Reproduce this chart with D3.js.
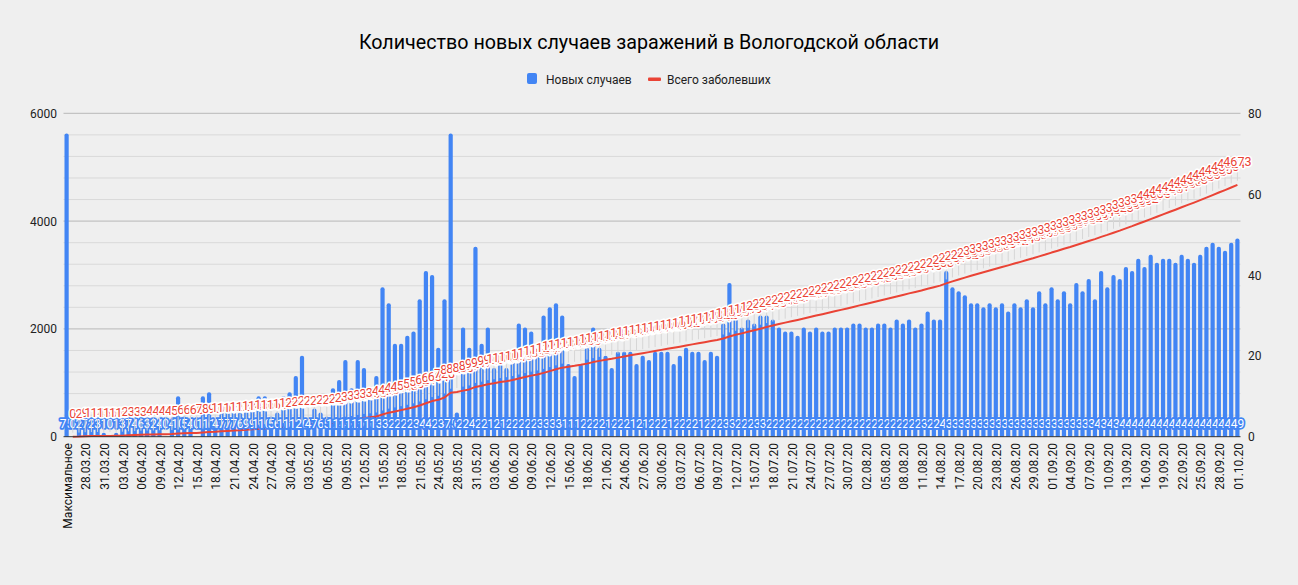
<!DOCTYPE html>
<html><head><meta charset="utf-8">
<script src="https://cdn.jsdelivr.net/npm/d3@7"></script>
<style>
html,body{margin:0;padding:0;background:#efefef;}
svg{display:block;font-family:Roboto,"Liberation Sans",Arial,sans-serif;}
</style></head><body>
<svg id="chart" width="1298" height="585"></svg>
<script>
const chartTitle = "Количество новых случаев заражений в Вологодской области";
const seriesNames = ["Новых случаев", "Всего заболевших"];
const leftTicks = [0, 2000, 4000, 6000];
const rightTicks = [0, 20, 40, 60, 80];

const categories = [
"Максимальное","26.03.20","27.03.20","28.03.20","29.03.20","30.03.20","31.03.20",
"01.04.20","02.04.20","03.04.20","04.04.20","05.04.20","06.04.20","07.04.20","08.04.20","09.04.20","10.04.20",
"11.04.20","12.04.20","13.04.20","14.04.20","15.04.20","16.04.20","17.04.20","18.04.20","19.04.20","20.04.20",
"21.04.20","22.04.20","23.04.20","24.04.20","25.04.20","26.04.20","27.04.20","28.04.20","29.04.20","30.04.20",
"01.05.20","02.05.20","03.05.20","04.05.20","05.05.20","06.05.20","07.05.20","08.05.20","09.05.20","10.05.20",
"11.05.20","12.05.20","13.05.20","14.05.20","15.05.20","16.05.20","17.05.20","18.05.20","19.05.20","20.05.20",
"21.05.20","22.05.20","23.05.20","24.05.20","26.05.20","27.05.20","28.05.20","29.05.20","30.05.20","31.05.20",
"01.06.20","02.06.20","03.06.20","04.06.20","05.06.20","06.06.20","07.06.20","08.06.20","09.06.20","10.06.20",
"11.06.20","12.06.20","13.06.20","14.06.20","15.06.20","16.06.20","17.06.20","18.06.20","19.06.20","20.06.20",
"21.06.20","22.06.20","23.06.20","24.06.20","25.06.20","26.06.20","27.06.20","28.06.20","29.06.20","30.06.20",
"01.07.20","02.07.20","03.07.20","04.07.20","05.07.20","06.07.20","07.07.20","08.07.20","09.07.20","10.07.20",
"11.07.20","12.07.20","13.07.20","14.07.20","15.07.20","16.07.20","17.07.20","18.07.20","19.07.20","20.07.20",
"21.07.20","22.07.20","23.07.20","24.07.20","25.07.20","26.07.20","27.07.20","28.07.20","29.07.20","30.07.20","31.07.20",
"01.08.20","02.08.20","03.08.20","04.08.20","05.08.20","06.08.20","07.08.20","08.08.20","09.08.20","10.08.20",
"11.08.20","12.08.20","13.08.20","14.08.20","15.08.20","16.08.20","17.08.20","18.08.20","19.08.20","20.08.20",
"21.08.20","22.08.20","23.08.20","24.08.20","25.08.20","26.08.20","27.08.20","28.08.20","29.08.20","30.08.20","31.08.20",
"01.09.20","02.09.20","03.09.20","04.09.20","05.09.20","06.09.20","07.09.20","08.09.20","09.09.20","10.09.20",
"11.09.20","12.09.20","13.09.20","14.09.20","15.09.20","16.09.20","17.09.20","18.09.20","19.09.20","20.09.20",
"21.09.20","22.09.20","23.09.20","24.09.20","25.09.20","26.09.20","27.09.20","28.09.20","29.09.20","30.09.20",
"01.10.20"];

const newCases = [
75,0,2,7,2,3,1,0,1,3,
7,4,6,3,2,4,0,4,10,5,
4,0,10,11,4,7,7,7,6,9,
9,10,10,5,6,10,11,15,20,4,
7,6,5,12,14,19,12,19,17,10,
15,37,33,23,23,25,26,34,41,40,
22,34,75,6,27,22,47,23,27,17,
20,17,20,28,27,26,20,30,32,33,
30,18,15,18,22,27,22,20,17,21,
21,21,18,20,19,21,21,21,18,20,
22,21,21,19,21,20,28,38,30,27,
29,28,30,30,29,27,26,26,25,27,
26,27,26,26,27,27,27,28,28,27,
27,28,28,27,29,28,29,27,28,31,
29,29,41,37,36,35,33,33,32,33,
32,33,31,33,32,34,32,36,33,37,
34,36,33,38,36,39,34,41,37,40,
39,42,41,44,42,45,43,44,44,43,
45,44,43,45,47,48,47,46,48,49];

const totalCases = [
null,0,2,9,11,14,15,15,16,19,
26,30,36,39,41,45,45,49,59,64,
68,68,78,89,93,100,107,114,120,129,
138,148,158,163,169,179,190,205,225,229,
236,243,249,262,277,297,310,330,348,359,
375,412,446,469,493,518,545,579,621,661,
684,728,816,828,855,877,924,947,974,992,
1013,1030,1051,1079,1107,1133,1154,1184,1217,1250,
1281,1299,1315,1334,1356,1384,1407,1427,1445,1467,
1488,1510,1529,1549,1569,1590,1611,1632,1650,1670,
1692,1713,1734,1753,1774,1794,1822,1860,1890,1917,
1946,1974,2004,2034,2063,2090,2116,2142,2167,2194,
2220,2247,2273,2299,2326,2353,2380,2408,2436,2463,
2490,2518,2546,2573,2602,2630,2659,2686,2714,2745,
2774,2803,2844,2881,2917,2952,2985,3018,3050,3083,
3115,3148,3179,3212,3244,3278,3310,3346,3379,3416,
3450,3486,3519,3557,3593,3632,3666,3707,3744,3784,
3823,3865,3906,3950,3992,4037,4080,4124,4168,4211,
4256,4300,4343,4388,4435,4483,4530,4576,4624,4673];

const W = 1298, H = 585;
const BLUE = "#4285f4", RED = "#ea4335";
const plot = {left: 63.5, right: 1240.5, top: 113.3, bottom: 436.7};
const svg = d3.select("#chart");
svg.append("rect").attr("width", W).attr("height", H).attr("fill", "#efefef");

const idx = d3.range(categories.length);
const x = d3.scaleBand().domain(idx).range([plot.left, plot.right]).paddingInner(0.32).paddingOuter(0.16);
const xc = i => x(i) + x.bandwidth() / 2;
const yL = d3.scaleLinear().domain([0, 6000]).range([plot.bottom, plot.top]);
const yR = d3.scaleLinear().domain([0, 80]).range([plot.bottom, plot.top]);

// gridlines
const grid = svg.append("g");
d3.range(400, 6001, 400).forEach(v => {
  const major = v % 2000 === 0;
  grid.append("line").attr("x1", plot.left).attr("x2", plot.right)
    .attr("y1", yL(v)).attr("y2", yL(v))
    .attr("stroke", major ? "#b8b8b8" : "#d9d9d9").attr("stroke-width", 1);
});

// bars (right axis)
function barPath(x0, w, yTop, yBase) {
  const r = Math.min(2, w / 2, yBase - yTop);
  return `M${x0},${yBase}V${yTop + r}Q${x0},${yTop} ${x0 + r},${yTop}H${x0 + w - r}Q${x0 + w},${yTop} ${x0 + w},${yTop + r}V${yBase}Z`;
}
svg.append("g").selectAll("path").data(idx.filter(i => newCases[i] > 0)).join("path")
  .attr("d", i => barPath(x(i), x.bandwidth(), yR(newCases[i]), yR(0)))
  .attr("fill", BLUE);

// line (left axis)
const pts = idx.filter(i => totalCases[i] != null);
const line = d3.line().x(i => xc(i)).y(i => yL(totalCases[i]));
svg.append("path").datum(pts).attr("d", line).attr("fill", "none")
  .attr("stroke", RED).attr("stroke-width", 2).attr("stroke-linejoin", "round");

// x axis line
svg.append("line").attr("x1", plot.left).attr("x2", plot.right)
  .attr("y1", plot.bottom).attr("y2", plot.bottom).attr("stroke", "#333").attr("stroke-width", 1);

// bar labels
svg.append("g").selectAll("text").data(idx).join("text")
  .attr("x", i => xc(i)).attr("y", 427.5)
  .attr("text-anchor", "middle").attr("font-size", 12)
  .attr("fill", "#ffffff").attr("stroke", BLUE).attr("stroke-width", 3.5)
  .attr("stroke-linejoin", "round").attr("paint-order", "stroke")
  .text(i => newCases[i]);

// leader lines + line labels
svg.append("g").selectAll("line").data(pts).join("line")
  .attr("x1", i => xc(i)).attr("x2", i => xc(i))
  .attr("y1", i => yL(totalCases[i]) - 4).attr("y2", i => yL(totalCases[i]) - 17)
  .attr("stroke", "#d6d6d6").attr("stroke-width", 1);
svg.append("g").selectAll("text").data(pts).join("text")
  .attr("x", i => xc(i)).attr("y", i => yL(totalCases[i]) - 19)
  .attr("text-anchor", "middle").attr("font-size", 12.5)
  .attr("fill", RED).attr("stroke", "#ffffff").attr("stroke-width", 3)
  .attr("stroke-linejoin", "round").attr("paint-order", "stroke")
  .text(i => totalCases[i]);

// axis tick labels
svg.append("g").selectAll("text").data(leftTicks).join("text")
  .attr("x", 57).attr("y", d => yL(d) + 4.5).attr("text-anchor", "end")
  .attr("font-size", 12).attr("fill", "#222").text(d => d);
svg.append("g").selectAll("text").data(rightTicks).join("text")
  .attr("x", 1248).attr("y", d => yR(d) + 4.5).attr("text-anchor", "start")
  .attr("font-size", 12).attr("fill", "#222").text(d => d);

svg.append("g").selectAll("text").data(idx.filter(i => i % 3 === 0)).join("text")
  .attr("transform", i => `translate(${xc(i) + 1},443) rotate(-90)`)
  .attr("text-anchor", "end").attr("dy", "0.35em")
  .attr("font-size", 12).attr("fill", "#111").text(i => categories[i]);

// title
svg.append("text").attr("x", 649).attr("y", 49).attr("text-anchor", "middle")
  .attr("font-size", 19.7).attr("fill", "#000").text(chartTitle);

// legend
const lg = svg.append("g");
lg.append("rect").attr("x", 527).attr("y", 73).attr("width", 10).attr("height", 11).attr("rx", 2).attr("fill", BLUE);
lg.append("text").attr("x", 546).attr("y", 83.5).attr("font-size", 12).attr("fill", "#222").text(seriesNames[0]);
lg.append("rect").attr("x", 648).attr("y", 77.5).attr("width", 13).attr("height", 3.5).attr("rx", 1).attr("fill", RED);
lg.append("text").attr("x", 667).attr("y", 83.5).attr("font-size", 12).attr("fill", "#222").text(seriesNames[1]);
</script>
</body></html>
